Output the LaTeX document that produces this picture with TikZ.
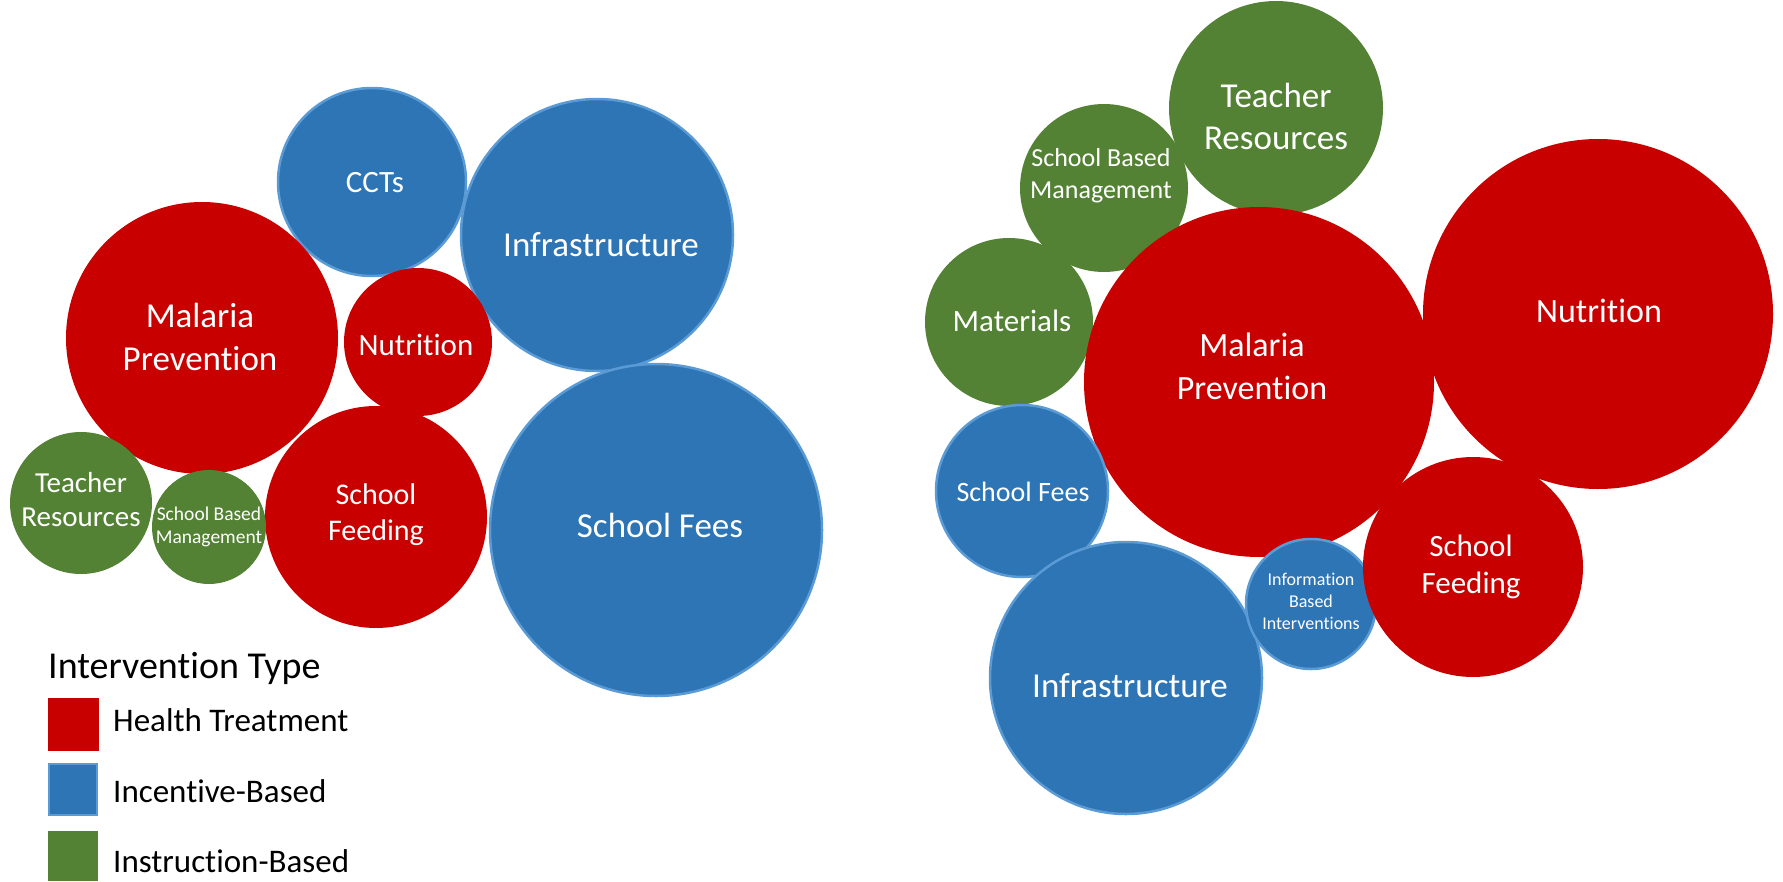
\documentclass[tikz,border=0pt]{standalone}
\usepackage{fontspec}
\setmainfont{Carlito}[Ligatures=NoCommon]
\newcommand\fsz[2]{\fontsize{#1}{#2}\selectfont}
\definecolor{hred}{HTML}{C80000}
\definecolor{iblue}{HTML}{2E75B6}
\definecolor{iblueb}{HTML}{5B9BD5}
\definecolor{igreen}{HTML}{548235}
\tikzset{
  bub/.style={circle, inner sep=0pt, outer sep=0pt},
  redb/.style={bub, fill=hred},
  blueb/.style={bub, fill=iblue, draw=iblueb, line width=2.5pt},
  greenb/.style={bub, fill=igreen},
  txt/.style={text=white, align=center, inner sep=0pt},
  legtxt/.style={text=black, anchor=base west, inner sep=0pt},
}
\begin{document}
\begin{tikzpicture}[x=1pt,y=-1pt]
\useasboundingbox (0,0) rectangle (1783,881);
% ---- left cluster ----
\node[blueb, minimum size=188pt] (cctL) at (372,182) {};
\node[blueb, minimum size=272pt] (infL) at (597,235) {};
\node[redb, minimum size=272pt] (malL) at (202,338) {};
\node[redb, minimum size=148pt] (nutL) at (418,342) {};
\node[blueb, minimum size=332pt] (feeL) at (656,530) {};
\node[redb, minimum size=222pt] (fdgL) at (376,517) {};
\node[greenb, minimum size=142pt] (teaL) at (81,503) {};
\node[greenb, minimum size=114pt] (sbmL) at (209,527) {};
\node[txt, font=\fsz{31}{36}] (tcctL) at (375,183) {CCTs};
\node[txt, font=\fsz{35}{42}] (tinfL) at (601,245) {Infrastructure};
\node[txt, font=\fsz{35}{43}] (tmalL) at (200,337) {Malaria\\Prevention};
\node[txt, font=\fsz{31}{37}] (tnutL) at (416,345) {Nutrition};
\node[txt, font=\fsz{35}{42}] (tfeeL) at (660,525) {School Fees};
\node[txt, font=\fsz{30}{36}] (tfdgL) at (376,515) {School\\Feeding};
\node[txt, font=\fsz{29}{34}] (tteaL) at (81,500) {Teacher\\Resources};
\node[txt, font=\fsz{19.5}{23}] (tsbmL) at (209,527) {School Based\\Management};
% ---- right cluster ----
\node[greenb, minimum size=214pt] (teaR) at (1276,108) {};
\node[greenb, minimum size=168pt] (sbmR) at (1104,188) {};
\node[greenb, minimum size=168pt] (matR) at (1009,322) {};
\node[redb, minimum size=350pt] (malR) at (1259,382) {};
\node[redb, minimum size=350pt] (nutR) at (1598,314) {};
\node[blueb, minimum size=172pt] (feeR) at (1022,491) {};
\node[blueb, minimum size=272pt] (infR) at (1126,678) {};
\node[blueb, minimum size=130pt] (infoR) at (1311,604) {};
\node[redb, minimum size=220pt] (fdgR) at (1473,567) {};
\node[txt, font=\fsz{35}{42}] (tteaR) at (1276,116) {Teacher\\Resources};
\node[txt, font=\fsz{26}{32}] (tsbmR) at (1101,176) {School Based\\Management};
\node[txt, font=\fsz{31}{37}] (tmatR) at (1012,321) {Materials};
\node[txt, font=\fsz{34}{43}] (tmalR) at (1252,366) {Malaria\\Prevention};
\node[txt, font=\fsz{34}{41}] (tnutR) at (1599,311) {Nutrition};
\node[txt, font=\fsz{28}{34}] (tfeeR) at (1023,492) {School Fees};
\node[txt, font=\fsz{35}{42}] (tinfR) at (1130,686) {Infrastructure};
\node[txt, font=\fsz{18}{22}] (tinfoR) at (1311,601) {Information\\Based\\Interventions};
\node[txt, font=\fsz{31}{37}] (tfdgR) at (1471,567) {School\\Feeding};
% ---- legend ----
\node[legtxt, font=\fsz{38}{44}] (legtitle) at (48,678) {Intervention Type};
\fill[hred] (48,698) rectangle (99,751);
\filldraw[fill=iblue, draw=iblueb, line width=2.5pt] (49,764) rectangle (97,815);
\fill[igreen] (48,831) rectangle (98,881);
\node[legtxt, font=\fsz{33}{39}] (leg1) at (113,731) {Health Treatment};
\node[legtxt, font=\fsz{33}{39}] (leg2) at (113,802) {Incentive-Based};
\node[legtxt, font=\fsz{33}{39}] (leg3) at (113,872) {Instruction-Based};
\end{tikzpicture}
\end{document}
